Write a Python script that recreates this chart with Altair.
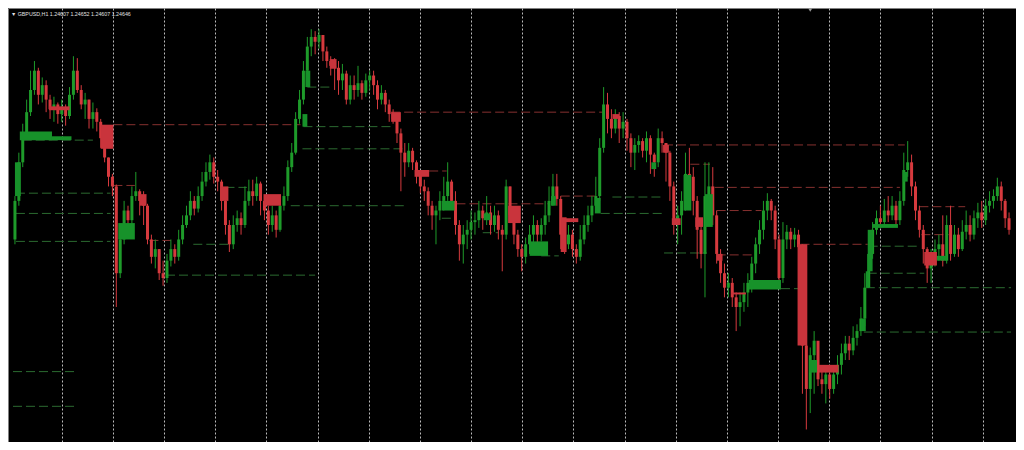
import altair as alt
import pandas as pd

# ---------------- data (GBPUSD H1) ----------------
first_open = 1.2460
closes = [
    1.2500, 1.2540, 1.2570, 1.2592, 1.2615, 1.2635, 1.2610, 1.2620, 1.2605, 1.2595,
    1.2600, 1.2590, 1.2597, 1.2588, 1.2610, 1.2635, 1.2615, 1.2600, 1.2605, 1.2585,
    1.2592, 1.2582, 1.2565, 1.2545, 1.2525, 1.2515, 1.2425, 1.2460, 1.2490, 1.2480,
    1.2505, 1.2510, 1.2500, 1.2495, 1.2460, 1.2442, 1.2450, 1.2425, 1.2420, 1.2438,
    1.2450, 1.2442, 1.2460, 1.2475, 1.2485, 1.2500, 1.2492, 1.2505, 1.2520, 1.2530,
    1.2540, 1.2525, 1.2520, 1.2500, 1.2475, 1.2455, 1.2475, 1.2482, 1.2475, 1.2500,
    1.2510, 1.2505, 1.2518, 1.2500, 1.2490, 1.2475, 1.2485, 1.2470, 1.2495, 1.2505,
    1.2535, 1.2550, 1.2585, 1.2605, 1.2635, 1.2660, 1.2670, 1.2665, 1.2672, 1.2655,
    1.2645, 1.2640, 1.2638, 1.2625, 1.2632, 1.2605, 1.2620, 1.2615, 1.2622, 1.2612,
    1.2625, 1.2630, 1.2620, 1.2605, 1.2612, 1.2600, 1.2590, 1.2585, 1.2570, 1.2550,
    1.2540, 1.2552, 1.2540, 1.2528, 1.2515, 1.2510, 1.2495, 1.2485, 1.2490, 1.2500,
    1.2505, 1.2520, 1.2500, 1.2475, 1.2455, 1.2465, 1.2470, 1.2478, 1.2480, 1.2490,
    1.2482, 1.2488, 1.2475, 1.2485, 1.2470, 1.2465, 1.2515, 1.2485, 1.2465, 1.2450,
    1.2442, 1.2455, 1.2465, 1.2475, 1.2465, 1.2475, 1.2485, 1.2500, 1.2515, 1.2502,
    1.2465, 1.2455, 1.2465, 1.2450, 1.2442, 1.2460, 1.2475, 1.2485, 1.2495, 1.2505,
    1.2555, 1.2600, 1.2585, 1.2575, 1.2588, 1.2575, 1.2582, 1.2565, 1.2550, 1.2558,
    1.2562, 1.2552, 1.2565, 1.2548, 1.2540, 1.2565, 1.2560, 1.2550, 1.2515, 1.2480,
    1.2485, 1.2500, 1.2528, 1.2525, 1.2500, 1.2470, 1.2445, 1.2505, 1.2515, 1.2485,
    1.2445, 1.2425, 1.2410, 1.2415, 1.2400, 1.2390, 1.2395, 1.2405, 1.2415, 1.2435,
    1.2455, 1.2470, 1.2490, 1.2500, 1.2490, 1.2460, 1.2420, 1.2460, 1.2468, 1.2460,
    1.2465, 1.2452, 1.2350, 1.2305, 1.2340, 1.2355, 1.2315, 1.2310, 1.2320, 1.2305,
    1.2320, 1.2330, 1.2342, 1.2352, 1.2345, 1.2358, 1.2365, 1.2378, 1.2410, 1.2445,
    1.2470, 1.2482, 1.2478, 1.2490, 1.2485, 1.2495, 1.2480, 1.2500, 1.2532, 1.2540,
    1.2515, 1.2490, 1.2470, 1.2450, 1.2430, 1.2442, 1.2450, 1.2455, 1.2438, 1.2475,
    1.2445, 1.2465, 1.2450, 1.2468, 1.2475, 1.2465, 1.2482, 1.2488, 1.2480, 1.2495,
    1.2500, 1.2505, 1.2515, 1.2500, 1.2482, 1.2470,
]
highs = [
    1.2505, 1.2550, 1.2580, 1.2605, 1.2635, 1.2645, 1.2638, 1.2628, 1.2625, 1.2610,
    1.2608, 1.2602, 1.2605, 1.2600, 1.2618, 1.2650, 1.2648, 1.2620, 1.2612, 1.2605,
    1.2602, 1.2596, 1.2585, 1.2562, 1.2545, 1.2528, 1.2517, 1.2465, 1.2500, 1.2495,
    1.2515, 1.2530, 1.2512, 1.2510, 1.2497, 1.2465, 1.2460, 1.2450, 1.2438, 1.2445,
    1.2460, 1.2455, 1.2470, 1.2485, 1.2495, 1.2510, 1.2505, 1.2515, 1.2530, 1.2540,
    1.2548, 1.2545, 1.2532, 1.2522, 1.2504, 1.2480, 1.2485, 1.2490, 1.2488, 1.2515,
    1.2522, 1.2522, 1.2525, 1.2520, 1.2505, 1.2495, 1.2495, 1.2490, 1.2505, 1.2515,
    1.2542, 1.2560, 1.2592, 1.2615, 1.2645, 1.2670, 1.2678, 1.2676, 1.2678, 1.2672,
    1.2660, 1.2650, 1.2648, 1.2645, 1.2642, 1.2635, 1.2630, 1.2630, 1.2640, 1.2625,
    1.2632, 1.2635, 1.2635, 1.2625, 1.2620, 1.2615, 1.2605, 1.2595, 1.2590, 1.2575,
    1.2560, 1.2560, 1.2555, 1.2542, 1.2530, 1.2522, 1.2514, 1.2500, 1.2495, 1.2510,
    1.2525, 1.2540, 1.2522, 1.2510, 1.2480, 1.2475, 1.2480, 1.2490, 1.2488, 1.2500,
    1.2495, 1.2505, 1.2495, 1.2495, 1.2490, 1.2475, 1.2522, 1.2515, 1.2490, 1.2470,
    1.2455, 1.2462, 1.2475, 1.2485, 1.2480, 1.2482, 1.2500, 1.2515, 1.2528, 1.2528,
    1.2505, 1.2470, 1.2475, 1.2470, 1.2455, 1.2475, 1.2485, 1.2495, 1.2505, 1.2525,
    1.2565, 1.2618, 1.2612, 1.2595, 1.2595, 1.2592, 1.2592, 1.2585, 1.2570, 1.2565,
    1.2568, 1.2565, 1.2572, 1.2568, 1.2550, 1.2575, 1.2572, 1.2560, 1.2552, 1.2520,
    1.2495, 1.2510, 1.2550, 1.2555, 1.2535, 1.2505, 1.2475, 1.2540, 1.2540, 1.2535,
    1.2490, 1.2450, 1.2435, 1.2425, 1.2420, 1.2405, 1.2405, 1.2415, 1.2425, 1.2442,
    1.2462, 1.2480, 1.2500, 1.2508, 1.2502, 1.2495, 1.2465, 1.2478, 1.2475, 1.2472,
    1.2472, 1.2470, 1.2455, 1.2355, 1.2348, 1.2365, 1.2350, 1.2328, 1.2328, 1.2322,
    1.2328, 1.2340, 1.2352, 1.2360, 1.2360, 1.2370, 1.2372, 1.2390, 1.2425, 1.2455,
    1.2478, 1.2490, 1.2495, 1.2502, 1.2505, 1.2505, 1.2500, 1.2510, 1.2550, 1.2562,
    1.2548, 1.2520, 1.2495, 1.2475, 1.2452, 1.2450, 1.2460, 1.2465, 1.2485, 1.2485,
    1.2495, 1.2475, 1.2472, 1.2480, 1.2490, 1.2485, 1.2490, 1.2498, 1.2500, 1.2502,
    1.2510, 1.2512, 1.2524, 1.2520, 1.2502, 1.2488,
]
lows = [
    1.2455, 1.2495, 1.2535, 1.2565, 1.2588, 1.2610, 1.2600, 1.2602, 1.2592, 1.2585,
    1.2582, 1.2580, 1.2582, 1.2578, 1.2585, 1.2605, 1.2612, 1.2595, 1.2585, 1.2575,
    1.2575, 1.2572, 1.2555, 1.2540, 1.2515, 1.2505, 1.2390, 1.2420, 1.2455, 1.2465,
    1.2475, 1.2500, 1.2485, 1.2475, 1.2455, 1.2435, 1.2430, 1.2418, 1.2412, 1.2415,
    1.2432, 1.2435, 1.2438, 1.2455, 1.2472, 1.2480, 1.2485, 1.2488, 1.2500, 1.2515,
    1.2522, 1.2518, 1.2510, 1.2490, 1.2465, 1.2447, 1.2450, 1.2468, 1.2465, 1.2472,
    1.2495, 1.2495, 1.2500, 1.2485, 1.2480, 1.2465, 1.2468, 1.2462, 1.2468, 1.2490,
    1.2500, 1.2530, 1.2548, 1.2580, 1.2600, 1.2630, 1.2650, 1.2652, 1.2658, 1.2645,
    1.2638, 1.2630, 1.2615, 1.2610, 1.2615, 1.2600, 1.2600, 1.2605, 1.2608, 1.2605,
    1.2608, 1.2615, 1.2610, 1.2595, 1.2600, 1.2592, 1.2582, 1.2580, 1.2560, 1.2510,
    1.2525, 1.2535, 1.2532, 1.2518, 1.2508, 1.2500, 1.2485, 1.2470, 1.2455, 1.2480,
    1.2490, 1.2500, 1.2492, 1.2465, 1.2438, 1.2435, 1.2450, 1.2460, 1.2465, 1.2472,
    1.2470, 1.2475, 1.2465, 1.2468, 1.2460, 1.2427, 1.2460, 1.2478, 1.2455, 1.2442,
    1.2427, 1.2435, 1.2445, 1.2455, 1.2452, 1.2458, 1.2465, 1.2478, 1.2495, 1.2495,
    1.2450, 1.2445, 1.2450, 1.2442, 1.2435, 1.2438, 1.2455, 1.2468, 1.2478, 1.2488,
    1.2500, 1.2550, 1.2570, 1.2565, 1.2570, 1.2560, 1.2565, 1.2552, 1.2535, 1.2532,
    1.2550, 1.2545, 1.2540, 1.2528, 1.2525, 1.2535, 1.2550, 1.2520, 1.2500, 1.2465,
    1.2455, 1.2465, 1.2490, 1.2500, 1.2485, 1.2440, 1.2430, 1.2400, 1.2490, 1.2475,
    1.2435, 1.2415, 1.2400, 1.2400, 1.2390, 1.2365, 1.2370, 1.2385, 1.2390, 1.2405,
    1.2425, 1.2445, 1.2460, 1.2480, 1.2480, 1.2450, 1.2410, 1.2415, 1.2450, 1.2450,
    1.2452, 1.2445, 1.2300, 1.2263, 1.2280, 1.2300, 1.2308, 1.2300, 1.2290, 1.2295,
    1.2300, 1.2310, 1.2320, 1.2335, 1.2335, 1.2340, 1.2350, 1.2360, 1.2370, 1.2410,
    1.2440, 1.2465, 1.2472, 1.2474, 1.2478, 1.2480, 1.2475, 1.2475, 1.2495, 1.2525,
    1.2505, 1.2480, 1.2462, 1.2435, 1.2415, 1.2415, 1.2432, 1.2438, 1.2432, 1.2435,
    1.2438, 1.2442, 1.2442, 1.2448, 1.2460, 1.2458, 1.2460, 1.2472, 1.2472, 1.2475,
    1.2488, 1.2492, 1.2500, 1.2490, 1.2472, 1.2465,
]

# supply / demand zones: start bar, end bar, top price, bottom price
demand_start = [0.5, 1.75, 10, 27, 75, 74.25, 110, 120.75, 132.5, 138, 149.25, 163.75,
                172, 177.5, 188.75, 204.25, 217.5, 218.75, 219.25, 220.5, 228.25, 237]
demand_end = [2.0, 10, 15, 31.25, 76.25, 75.5, 113.25, 122.5, 137.25, 139.25, 150.75, 165,
              174, 179.5, 197, 206.25, 218.75, 219.5, 220.5, 227, 229.5, 239.5]
demand_top = [1.2540, 1.2572, 1.2567, 1.2477, 1.2635, 1.2590, 1.2500, 1.2487, 1.2458, 1.2505,
              1.2503, 1.2540, 1.2527, 1.2507, 1.2418, 1.2335, 1.2378, 1.2427, 1.2470, 1.2476,
              1.2530, 1.2443]
demand_bot = [1.2505, 1.2563, 1.2563, 1.2460, 1.2618, 1.2577, 1.2490, 1.2480, 1.2443, 1.2495,
              1.2487, 1.2533, 1.2490, 1.2473, 1.2408, 1.2322, 1.2365, 1.2410, 1.2427, 1.2472,
              1.2520, 1.2438]

supply_start = [9.25, 22.5, 32.5, 53.25, 64.25, 81.25, 97, 103, 127, 140.5, 141.25, 153.75,
                166.75, 169, 175, 180.5, 184.25, 201.25, 206.75, 233.75]
supply_end = [14.5, 25.75, 34.25, 55.25, 68.75, 83, 99.5, 106.75, 130.25, 142, 145, 155.5,
              168.25, 171.25, 177, 182, 188, 203.75, 211.75, 237]
supply_top = [1.2598, 1.2579, 1.2507, 1.2515, 1.2507, 1.2647, 1.2592, 1.2532, 1.2495, 1.2483,
              1.2482, 1.2590, 1.2558, 1.2482, 1.2483, 1.2445, 1.2405, 1.2455, 1.2330, 1.2447]
supply_bot = [1.2594, 1.2554, 1.2495, 1.2500, 1.2495, 1.2637, 1.2582, 1.2525, 1.2477, 1.2447,
              1.2478, 1.2585, 1.2550, 1.2475, 1.2473, 1.2438, 1.2403, 1.2350, 1.2322, 1.2433]

# dashed levels: start bar, end bar, price
res_start = [25.75, 25.75, 35, 97, 106.75, 113.75, 140.5, 167, 180, 180.5, 173.75, 180.5,
             202, 232.5, 233]
res_end = [73.75, 31.25, 40.5, 151.25, 111.25, 137.5, 149.25, 228.75, 227.5, 192, 178.75,
           189.5, 219.25, 244.25, 240]
res_price = [1.2579, 1.2516, 1.2459, 1.2592, 1.2531, 1.2497, 1.2505, 1.2558, 1.2514, 1.2490,
             1.2538, 1.2444, 1.2455, 1.2494, 1.2465]

sup_start = [2.5, 0.75, 0.75, 0.75, 0, 0, 39.25, 46.25, 74.5, 74.25, 71.25, 75.5, 54.5,
             120.5, 110, 135.5, 150.75, 153.75, 167, 197, 219.5, 219.25, 218.75, 218.25]
sup_end = [20.5, 25, 25, 25, 15.75, 15.75, 77.5, 55.5, 97, 100.5, 100.5, 81.75, 60,
           124.5, 113.75, 140, 167, 167, 178, 201.75, 232.5, 233.75, 256, 256]
sup_price = [1.2563, 1.2508, 1.2487, 1.2458, 1.2323, 1.2287, 1.2423, 1.2455, 1.2577, 1.2554,
             1.2495, 1.2618, 1.2514, 1.2467, 1.2482, 1.2443, 1.2487, 1.2504, 1.2446, 1.2409,
             1.2453, 1.2425, 1.2410, 1.2364]

# day separators (bar positions)
day_breaks = [12.5, 25.625, 38.75, 51.875, 65, 78.125, 91.25, 104.375, 117.5, 130.625,
              143.75, 156.875, 170, 183.125, 196.25, 209.375, 222.5, 235.625, 248.75]

header = "\u25BC GBPUSD,H1  1.24607 1.24652 1.24607 1.24646"
shift_bar = 204.5

# ---------------- build tables ----------------
opens = [first_open] + closes[:-1]
candles = pd.DataFrame({
    "bar": [i + 0.5 for i in range(len(closes))],
    "open": opens, "close": closes, "high": highs, "low": lows,
})
zones = pd.concat([
    pd.DataFrame({"x0": demand_start, "x1": demand_end, "top": demand_top,
                  "bot": demand_bot, "kind": "demand"}),
    pd.DataFrame({"x0": supply_start, "x1": supply_end, "top": supply_top,
                  "bot": supply_bot, "kind": "supply"}),
])
levels = pd.concat([
    pd.DataFrame({"x0": res_start, "x1": res_end, "p": res_price, "kind": "supply"}),
    pd.DataFrame({"x0": sup_start, "x1": sup_end, "p": sup_price, "kind": "demand"}),
])

GREEN = "#1E9B2A"
RED = "#D63A3E"
ZGREEN = "#17922A"
ZRED = "#C9343C"
LGREEN = "#2B6A30"
LRED = "#86302F"

xs = alt.Scale(domain=[0, 256], nice=False, zero=False)
ys = alt.Scale(domain=[1.2250, 1.2700], nice=False, zero=False)

xaxis = alt.Axis(values=day_breaks, grid=True, gridDash=[2, 2], gridColor="#cfcfcf",
                 gridWidth=1, gridOpacity=0.9, labels=False, ticks=False, domain=False,
                 title=None)

base = alt.Chart(candles)

lvl = alt.Chart(levels).mark_rule(strokeWidth=1, strokeDash=[9, 4]).encode(
    x=alt.X("x0:Q", scale=xs, axis=xaxis),
    x2="x1:Q",
    y=alt.Y("p:Q", scale=ys, axis=None),
    color=alt.condition("datum.kind == 'demand'", alt.value(LGREEN), alt.value(LRED)),
)

wick = base.mark_rule(strokeWidth=1).encode(
    x=alt.X("bar:Q", scale=xs, axis=xaxis),
    y=alt.Y("low:Q", scale=ys, axis=None),
    y2="high:Q",
    color=alt.condition("datum.close >= datum.open", alt.value(GREEN), alt.value(RED)),
)

body = base.mark_bar(size=3).encode(
    x=alt.X("bar:Q", scale=xs, axis=xaxis),
    y=alt.Y("open:Q", scale=ys, axis=None),
    y2="close:Q",
    color=alt.condition("datum.close >= datum.open", alt.value(GREEN), alt.value(RED)),
)

zone = alt.Chart(zones).mark_rect().encode(
    x=alt.X("x0:Q", scale=xs, axis=xaxis),
    x2="x1:Q",
    y=alt.Y("top:Q", scale=ys, axis=None),
    y2="bot:Q",
    color=alt.condition("datum.kind == 'demand'", alt.value(ZGREEN), alt.value(ZRED)),
)

title_txt = alt.Chart(pd.DataFrame({"t": [header]})).mark_text(
    align="left", baseline="middle", fontSize=5.3, font="Liberation Sans", color="#e0e0e0"
).encode(x=alt.value(3), y=alt.value(6), text="t:N")

marker = alt.Chart(pd.DataFrame({"b": [shift_bar]})).mark_point(
    shape="triangle-down", filled=True, size=18, color="#9a9a9a", opacity=1
).encode(x=alt.X("b:Q", scale=xs, axis=xaxis), y=alt.value(2))

chart = alt.layer(lvl, wick, body, zone, title_txt, marker).properties(
    width=1008, height=434, background="#000000", padding=0,
    autosize=alt.AutoSizeParams(type="fit", contains="padding"),
).configure_view(stroke="#808080", strokeWidth=1)

chart.save("out.html", embed_options={"renderer": "svg", "actions": False})
